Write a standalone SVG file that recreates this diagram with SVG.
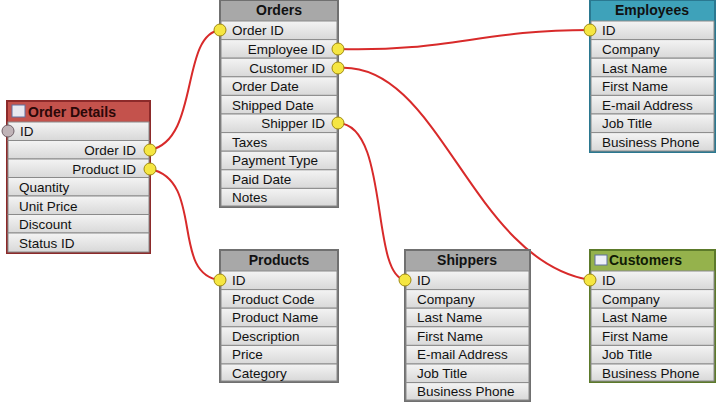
<svg xmlns="http://www.w3.org/2000/svg" width="716" height="402" viewBox="0 0 716 402">
<style>
text{font-family:"Liberation Sans",Arial,sans-serif;font-size:13.5px;fill:#111}
.h{font-weight:bold;font-size:14px;text-anchor:middle}
.r{fill:url(#rg);stroke:#8a8a8a;stroke-width:1}
.k{fill:#f5e642;stroke:#a08a10;stroke-width:1}
.c{fill:none;stroke:#d82a2a;stroke-width:2}
</style>
<defs>
<linearGradient id="rg" x1="0" y1="0" x2="0" y2="1"><stop offset="0" stop-color="#f4f4f4"/><stop offset="1" stop-color="#d8d8d8"/></linearGradient>
</defs>
<rect width="716" height="402" fill="#fff"/>
<g id="connectors">
<path class="c" d="M150,150 C200,140 180,35 220,30"/>
<path class="c" d="M150,169 C205,180 170,275 220,280"/>
<path class="c" d="M338,49 C450,52 480,30 590,30"/>
<path class="c" d="M338,68 C440,60 470,260 590,280"/>
<path class="c" d="M338,123 C390,125 370,275 405,280"/>
</g>
<g id="order-details">
<rect x="7" y="101" width="143" height="152" fill="#c4524c" stroke="#8c2a2a" stroke-width="2"/>
<rect x="12" y="105" width="13" height="12" fill="#e8e8f0" stroke="#6070a0"/>
<text x="28" y="117" style="font-weight:bold;font-size:14px;fill:#2a0808">Order Details</text>
<g transform="translate(8,0)">
<rect class="r" x="0" y="122" width="141" height="18.5"/><rect class="r" x="0" y="140.5" width="141" height="18.5"/><rect class="r" x="0" y="159" width="141" height="18.5"/><rect class="r" x="0" y="177.5" width="141" height="18.5"/><rect class="r" x="0" y="196" width="141" height="18.5"/><rect class="r" x="0" y="214.5" width="141" height="18.5"/><rect class="r" x="0" y="233" width="141" height="19"/>
</g>
<text x="20" y="136">ID</text>
<text x="136" y="155" text-anchor="end">Order ID</text>
<text x="136" y="174" text-anchor="end">Product ID</text>
<text x="19" y="192">Quantity</text><text x="19" y="211">Unit Price</text><text x="19" y="229">Discount</text><text x="19" y="248">Status ID</text>
<circle cx="8" cy="131" r="6" fill="#c0b4b8" stroke="#706068"/>
<circle class="k" cx="150" cy="150" r="6"/><circle class="k" cx="150" cy="169" r="6"/>
</g>
<g id="orders">
<rect x="220" y="0" width="118" height="207" fill="#a8a8a8" stroke="#707070" stroke-width="2"/>
<text class="h" x="279" y="15">Orders</text>
<g transform="translate(221,0)">
<rect class="r" x="0" y="21" width="116" height="18.6"/><rect class="r" x="0" y="39.6" width="116" height="18.6"/><rect class="r" x="0" y="58.2" width="116" height="18.6"/><rect class="r" x="0" y="76.8" width="116" height="18.6"/><rect class="r" x="0" y="95.4" width="116" height="18.6"/><rect class="r" x="0" y="114" width="116" height="18.6"/><rect class="r" x="0" y="132.6" width="116" height="18.6"/><rect class="r" x="0" y="151.2" width="116" height="18.6"/><rect class="r" x="0" y="169.8" width="116" height="18.6"/><rect class="r" x="0" y="188.4" width="116" height="17.6"/>
</g>
<text x="232" y="35">Order ID</text>
<text x="325" y="54" text-anchor="end">Employee ID</text>
<text x="325" y="73" text-anchor="end">Customer ID</text>
<text x="232" y="91">Order Date</text><text x="232" y="110">Shipped Date</text>
<text x="325" y="128" text-anchor="end">Shipper ID</text>
<text x="232" y="147">Taxes</text><text x="232" y="165">Payment Type</text><text x="232" y="184">Paid Date</text><text x="232" y="202">Notes</text>
<circle class="k" cx="220" cy="30" r="6"/><circle class="k" cx="338" cy="49" r="6"/><circle class="k" cx="338" cy="68" r="6"/><circle class="k" cx="338" cy="123" r="6"/>
</g>
<g id="employees">
<rect x="590" y="0" width="125" height="152" fill="#3ea2ba" stroke="#2a7890" stroke-width="2"/>
<text class="h" x="652" y="15">Employees</text>
<g transform="translate(591,0)">
<rect class="r" x="0" y="21" width="123" height="18.6"/><rect class="r" x="0" y="39.6" width="123" height="18.6"/><rect class="r" x="0" y="58.2" width="123" height="18.6"/><rect class="r" x="0" y="76.8" width="123" height="18.6"/><rect class="r" x="0" y="95.4" width="123" height="18.6"/><rect class="r" x="0" y="114" width="123" height="18.6"/><rect class="r" x="0" y="132.6" width="123" height="18.4"/>
</g>
<text x="602" y="35">ID</text><text x="602" y="54">Company</text><text x="602" y="73">Last Name</text><text x="602" y="91">First Name</text><text x="602" y="110">E-mail Address</text><text x="602" y="128">Job Title</text><text x="602" y="147">Business Phone</text>
<circle class="k" cx="590" cy="30" r="6"/>
</g>
<g id="products">
<rect x="220" y="250" width="118" height="132" fill="#a8a8a8" stroke="#707070" stroke-width="2"/>
<text class="h" x="279" y="265">Products</text>
<g transform="translate(221,0)">
<rect class="r" x="0" y="271" width="116" height="18.6"/><rect class="r" x="0" y="289.6" width="116" height="18.6"/><rect class="r" x="0" y="308.2" width="116" height="18.6"/><rect class="r" x="0" y="326.8" width="116" height="18.6"/><rect class="r" x="0" y="345.4" width="116" height="18.6"/><rect class="r" x="0" y="364" width="116" height="17"/>
</g>
<text x="232" y="285">ID</text><text x="232" y="304">Product Code</text><text x="232" y="322">Product Name</text><text x="232" y="341">Description</text><text x="232" y="359">Price</text><text x="232" y="378">Category</text>
<circle class="k" cx="220" cy="280" r="6"/>
</g>
<g id="shippers">
<rect x="405" y="250" width="125" height="151" fill="#a8a8a8" stroke="#707070" stroke-width="2"/>
<text class="h" x="467" y="265">Shippers</text>
<g transform="translate(406,0)">
<rect class="r" x="0" y="271" width="123" height="18.6"/><rect class="r" x="0" y="289.6" width="123" height="18.6"/><rect class="r" x="0" y="308.2" width="123" height="18.6"/><rect class="r" x="0" y="326.8" width="123" height="18.6"/><rect class="r" x="0" y="345.4" width="123" height="18.6"/><rect class="r" x="0" y="364" width="123" height="18.6"/><rect class="r" x="0" y="382.6" width="123" height="17.4"/>
</g>
<text x="417" y="285">ID</text><text x="417" y="304">Company</text><text x="417" y="322">Last Name</text><text x="417" y="341">First Name</text><text x="417" y="359">E-mail Address</text><text x="417" y="378">Job Title</text><text x="417" y="396">Business Phone</text>
<circle class="k" cx="405" cy="280" r="6"/>
</g>
<g id="customers">
<rect x="590" y="250" width="125" height="132" fill="#95b24c" stroke="#5c7a2a" stroke-width="2"/>
<rect x="595" y="255" width="12" height="10" fill="#eef0f8" stroke="#6070a0"/>
<text x="609" y="265" style="font-weight:bold;font-size:14px;fill:#101a05">Customers</text>
<g transform="translate(591,0)">
<rect class="r" x="0" y="271" width="123" height="18.6"/><rect class="r" x="0" y="289.6" width="123" height="18.6"/><rect class="r" x="0" y="308.2" width="123" height="18.6"/><rect class="r" x="0" y="326.8" width="123" height="18.6"/><rect class="r" x="0" y="345.4" width="123" height="18.6"/><rect class="r" x="0" y="364" width="123" height="17"/>
</g>
<text x="602" y="285">ID</text><text x="602" y="304">Company</text><text x="602" y="322">Last Name</text><text x="602" y="341">First Name</text><text x="602" y="359">Job Title</text><text x="602" y="378">Business Phone</text>
<circle class="k" cx="590" cy="280" r="6"/>
</g>
</svg>
